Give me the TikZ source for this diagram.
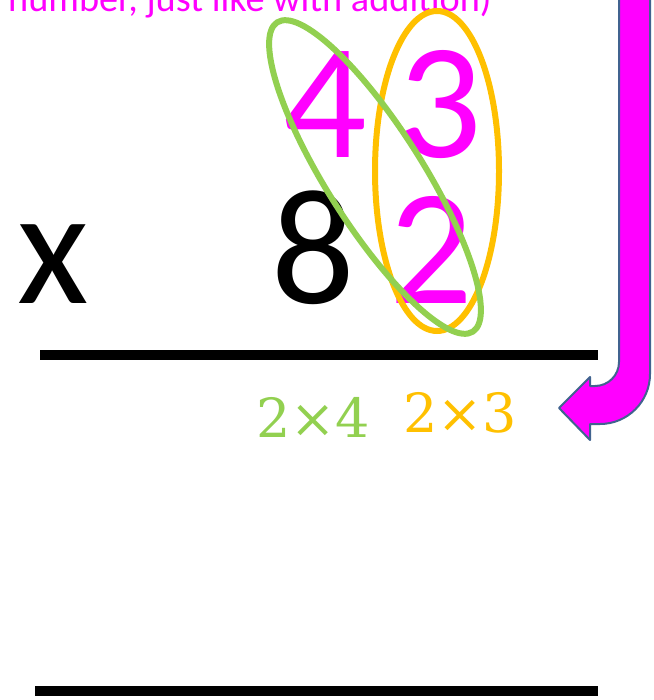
\documentclass[tikz,border=0pt]{standalone}
\usepackage{fontspec}
\setmainfont{Carlito}
\newfontfamily\labfont{DejaVu Serif}
\usetikzlibrary{shapes.geometric}
\definecolor{mag}{HTML}{FF00FF}
\definecolor{grn}{HTML}{92D050}
\definecolor{org}{HTML}{FFC000}
\definecolor{outl}{HTML}{41638F}
\tikzset{
  big/.style={font=\fontsize{165}{165}\selectfont, inner sep=0pt, anchor=base},
  lab/.style={font=\labfont\fontsize{54}{54}\selectfont, inner sep=0pt, anchor=base},
  rule/.style={line width=10pt},
  ring/.style={draw, ellipse, line width=6pt, inner sep=0pt},
}
\begin{document}
\begin{tikzpicture}[x=1pt,y=-1pt]
\useasboundingbox (0,0) rectangle (653,700);
\clip (0,0) rectangle (653,700);
% top (cut) caption
\node[font=\fontsize{38.3}{38.3}\selectfont, text=mag, inner sep=0pt, anchor=base west] (cap) at (8,12) {number, just like with addition)};
% digits
\node[big, text=mag] (d4) at (325,158) {4};
\node[big, text=mag] (d3) at (440,158) {3};
\node[big] (d8) at (313,303) {8};
\node[big, text=mag] (d2) at (431,303) {2};
\node[big] (x) at (53,303) {x};
% rules
\coordinate (r1a) at (40,355);
\coordinate (r1b) at (598,355);
\coordinate (r2a) at (35,691);
\coordinate (r2b) at (598,691);
\draw[rule] (r1a) -- (r1b);
\draw[rule] (r2a) -- (r2b);
% ellipses
\node[ring, draw=org, minimum width=124pt, minimum height=320pt] (eo) at (437,171) {};
\node[ring, draw=grn, minimum width=366pt, minimum height=96pt, rotate=-57.7] (eg) at (375,177) {};
% labels
\node[lab, text=grn] (l1) at (313,437) {2×4};
\node[lab, text=org] (l2) at (460,432) {2×3};
% bent arrow
\draw[fill=mag, draw=outl, line width=2pt, line join=round]
  (619,-10) -- (619,362)
  .. controls (619,375.25) and (608.25,386) .. (595,386)
  -- (590,386) -- (590,377) -- (559,408) -- (590,440) -- (590,424) -- (600,424)
  .. controls (627.6,424) and (650,401.6) .. (650,374)
  -- (650,-10) -- cycle;
\end{tikzpicture}
\end{document}
